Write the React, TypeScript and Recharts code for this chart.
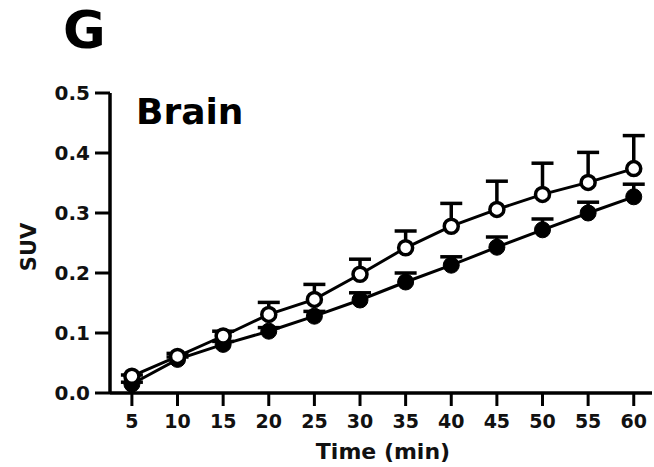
import React from "react";
import { LineChart, Line, XAxis, YAxis, ErrorBar } from "recharts";

const times = [5, 10, 15, 20, 25, 30, 35, 40, 45, 50, 55, 60];
const openMean = [0.028, 0.061, 0.095, 0.131, 0.156, 0.198, 0.242, 0.278, 0.306, 0.331, 0.351, 0.374];
const openErr = [0.002, 0.005, 0.008, 0.02, 0.025, 0.025, 0.028, 0.038, 0.047, 0.052, 0.05, 0.055];
const filledMean = [0.015, 0.056, 0.081, 0.103, 0.128, 0.155, 0.185, 0.213, 0.243, 0.272, 0.3, 0.327];
const filledErr = [0.003, 0.004, 0.005, 0.006, 0.008, 0.012, 0.015, 0.014, 0.017, 0.018, 0.018, 0.021];
const yTicks = [0, 0.1, 0.2, 0.3, 0.4, 0.5];

const data = times.map((t, i) => ({
  t,
  open: openMean[i],
  openE: [0, openErr[i]],
  openTop: openMean[i] + openErr[i],
  filled: filledMean[i],
  filledE: [0, filledErr[i]],
  filledTop: filledMean[i] + filledErr[i],
}));

const FONT = "'DejaVu Sans', sans-serif";
const tickStyle = { fontFamily: FONT, fontWeight: 700, fontSize: 19, fill: "#111" };

const Cap = (props: any) => {
  const { cx, cy, index } = props;
  if (cx == null || cy == null) return <g key={`c${index}`} />;
  return <line key={`c${index}`} x1={cx - 11} x2={cx + 11} y1={cy} y2={cy} stroke="#000" strokeWidth={3.5} />;
};

export default function App() {
  return (
    <div style={{ position: "absolute", left: 0, top: 0, width: 654, height: 467, background: "#fff" }}>
      <LineChart
        width={654}
        height={467}
        data={data}
        margin={{ top: 93, right: 2, bottom: 0, left: 0 }}
      >
        <XAxis
          dataKey="t"
          type="number"
          domain={[2.6, 62]}
          ticks={times}
          allowDataOverflow
          height={74}
          tickSize={13}
          tickMargin={9}
          axisLine={{ stroke: "#000", strokeWidth: 3.5 }}
          tickLine={{ stroke: "#000", strokeWidth: 3 }}
          tick={tickStyle}
        />
        <YAxis
          type="number"
          domain={[0, 0.5]}
          ticks={yTicks}
          width={110}
          tickSize={15}
          tickMargin={5}
          tickFormatter={(v: number) => v.toFixed(1)}
          axisLine={{ stroke: "#000", strokeWidth: 3.5 }}
          tickLine={{ stroke: "#000", strokeWidth: 3 }}
          tick={{ ...tickStyle, fontSize: 20 }}
        />
        <Line
          dataKey="filledTop"
          stroke="none"
          isAnimationActive={false}
          dot={Cap}
          activeDot={false}
        />
        <Line
          dataKey="openTop"
          stroke="none"
          isAnimationActive={false}
          dot={Cap}
          activeDot={false}
        />
        <Line
          dataKey="filled"
          stroke="#000"
          strokeWidth={3}
          isAnimationActive={false}
          dot={{ r: 8, fill: "#000", stroke: "#000", strokeWidth: 1 }}
          activeDot={false}
        >
          <ErrorBar dataKey="filledE" direction="y" width={0} stroke="#000" strokeWidth={3.5} />
        </Line>
        <Line
          dataKey="open"
          stroke="#000"
          strokeWidth={3}
          isAnimationActive={false}
          dot={{ r: 7, fill: "#fff", stroke: "#000", strokeWidth: 3.5 }}
          activeDot={false}
        >
          <ErrorBar dataKey="openE" direction="y" width={0} stroke="#000" strokeWidth={3.5} />
        </Line>
      </LineChart>
      <svg
        width={654}
        height={467}
        style={{ position: "absolute", left: 0, top: 0, pointerEvents: "none" }}
      >
        <text x={63} y={48} fontFamily={FONT} fontWeight={700} fontSize={52} fill="#000">
          G
        </text>
        <text x={136} y={124} fontFamily={FONT} fontWeight={700} fontSize={36} fill="#000">
          Brain
        </text>
        <text
          x={29}
          y={247}
          transform="rotate(-90 29 247)"
          textAnchor="middle"
          dominantBaseline="central"
          fontFamily={FONT}
          fontWeight={700}
          fontSize={21}
          fill="#111"
        >
          SUV
        </text>
        <text x={383} y={459} textAnchor="middle" fontFamily={FONT} fontWeight={700} fontSize={22} fill="#111">
          Time (min)
        </text>
      </svg>
    </div>
  );
}
